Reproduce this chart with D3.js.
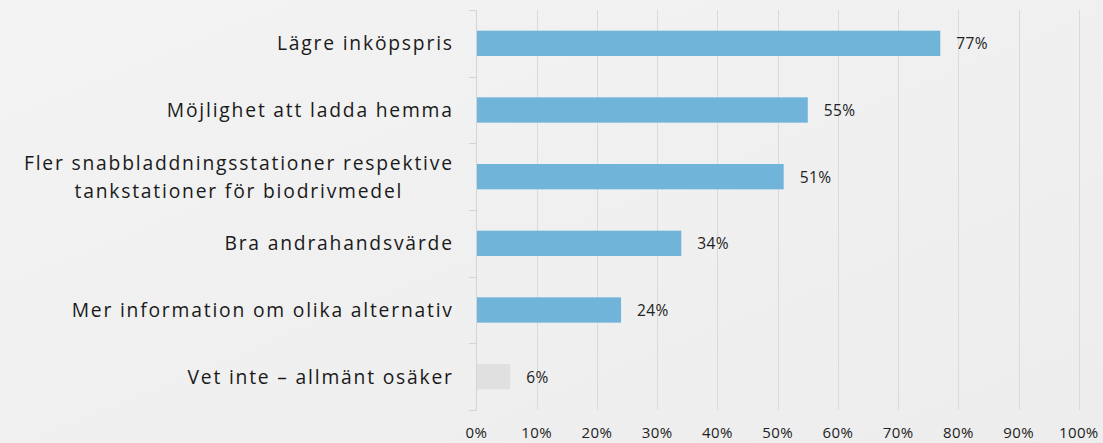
<!DOCTYPE html>
<html><head><meta charset="utf-8">
<script src="https://cdn.jsdelivr.net/npm/d3@7"></script>
<style>
html,body{margin:0;padding:0;background:#f0f0f0;}
svg{display:block;}
</style></head>
<body><svg id="c" width="1103" height="443"></svg>
<script>
const categories = [
  ["Lägre inköpspris"],
  ["Möjlighet att ladda hemma"],
  ["Fler snabbladdningsstationer respektive", "tankstationer för biodrivmedel"],
  ["Bra andrahandsvärde"],
  ["Mer information om olika alternativ"],
  ["Vet inte – allmänt osäker"]
];
const values = [77, 55, 51, 34, 24, 5.6];
const valueLabels = ["77%", "55%", "51%", "34%", "24%", "6%"];
const tickValues = [0, 10, 20, 30, 40, 50, 60, 70, 80, 90, 100];
const tickLabels = ["0%","10%","20%","30%","40%","50%","60%","70%","80%","90%","100%"];
const barColors = ["#70b4da","#70b4da","#70b4da","#70b4da","#70b4da","#e0e0e0"];

const svg = d3.select("#c");
const W = 1103, H = 443;
const defs = svg.append("defs");
const grad = defs.append("linearGradient").attr("id","bg").attr("x1","0").attr("y1","0").attr("x2","1").attr("y2","1");
grad.append("stop").attr("offset","0").attr("stop-color","#f3f3f3");
grad.append("stop").attr("offset","1").attr("stop-color","#ededed");
svg.append("rect").attr("width",W).attr("height",H).attr("fill","url(#bg)");

const x = d3.scaleLinear().domain([0,100]).range([476.5, 1078.8]);
const idx = d3.range(categories.length);
const y = d3.scaleBand().domain(idx).range([10, 410]).paddingInner(0.62).paddingOuter(0.31);
const yb = d3.scaleBand().domain(idx).range([10, 410]);

// gridlines
svg.append("g").selectAll("line").data(tickValues.slice(1)).join("line")
  .attr("x1", d => Math.round(x(d)) + 0.5).attr("x2", d => Math.round(x(d)) + 0.5)
  .attr("y1", 10).attr("y2", 410).attr("stroke", "#dadada").attr("stroke-width", 1);

// y axis line + ticks
const ax = svg.append("g");
ax.append("line").attr("x1", 476.5).attr("x2", 476.5).attr("y1", 10).attr("y2", 410)
  .attr("stroke", "#d4d4d4");
ax.selectAll("line.t").data(d3.range(categories.length + 1)).join("line").attr("class","t")
  .attr("x1", 469).attr("x2", 476.5)
  .attr("y1", d => Math.round(10 + d * yb.step()) + 0.5)
  .attr("y2", d => Math.round(10 + d * yb.step()) + 0.5)
  .attr("stroke", "#d4d4d4");

// bars
svg.append("g").selectAll("rect").data(values).join("rect")
  .attr("x", x(0) + 0.5)
  .attr("y", (d, i) => y(i))
  .attr("width", d => x(d) - x(0) - 0.5)
  .attr("height", y.bandwidth())
  .attr("fill", (d, i) => barColors[i]);

// value labels
svg.append("g").selectAll("text").data(values).join("text")
  .attr("x", d => x(d) + 16)
  .attr("y", (d, i) => y(i) + y.bandwidth() / 2 + 6)
  .attr("font-family", "Open Sans, sans-serif")
  .attr("font-size", 15.5)
  .attr("letter-spacing", "0.4px")
  .attr("fill", "#222")
  .text((d, i) => valueLabels[i]);

// category labels
const catFont = 19.3, catLs = 1.8;
const rightX = 452 + catLs;
const catG = svg.append("g");
categories.forEach((lines, i) => {
  const cy = yb(i) + yb.bandwidth() / 2;
  const t0 = catG.append("text")
    .attr("font-family", "Open Sans, sans-serif").attr("font-size", catFont)
    .attr("letter-spacing", catLs + "px").attr("fill", "#1a1a1a");
  if (lines.length === 1) {
    t0.attr("x", rightX).attr("y", cy + 7).attr("text-anchor", "end").text(lines[0]);
  } else {
    t0.attr("x", rightX).attr("y", cy - 7).attr("text-anchor", "end").text(lines[0]);
    const w = t0.node().getComputedTextLength();
    const center = rightX - w / 2;
    catG.append("text")
      .attr("font-family", "Open Sans, sans-serif").attr("font-size", catFont)
      .attr("letter-spacing", catLs + "px").attr("fill", "#1a1a1a")
      .attr("x", center).attr("y", cy + 21).attr("text-anchor", "middle")
      .text(lines[1]);
  }
});

// x axis tick labels
svg.append("g").selectAll("text").data(tickValues).join("text")
  .attr("x", d => x(d))
  .attr("y", 437.5)
  .attr("text-anchor", "middle")
  .attr("font-family", "Open Sans, sans-serif").attr("font-size", 15)
  .attr("letter-spacing", "0.4px")
  .attr("fill", "#222")
  .text((d, i) => tickLabels[i]);
</script></body></html>
